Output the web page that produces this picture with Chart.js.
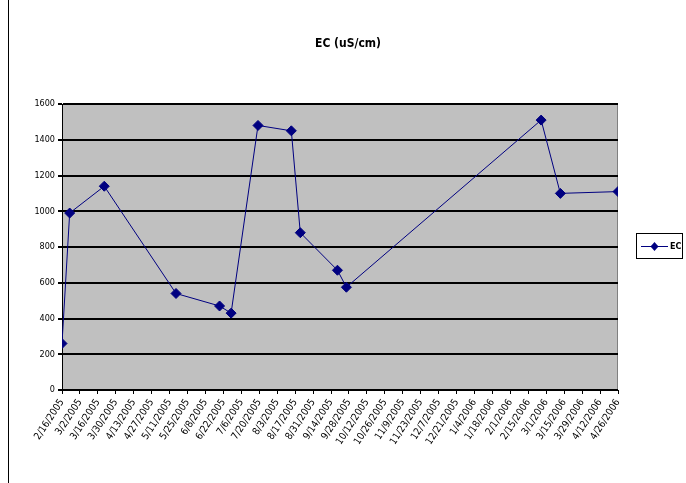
<!DOCTYPE html>
<html>
<head>
<meta charset="utf-8">
<script src="https://cdn.jsdelivr.net/npm/chart.js@4/dist/chart.umd.min.js"></script>
<style>
  html, body { margin: 0; padding: 0; background: #fff; }
  #wrap { width: 686px; height: 483px; position: relative; }
</style>
</head>
<body>
<div id="wrap"><canvas id="ecChart"></canvas></div>
<script>
// sample dates and EC readings
const sampleDates = ['2/16/2005', '2/22/2005', '3/21/2005', '5/16/2005', '6/19/2005', '6/28/2005', '7/19/2005',
  '8/14/2005', '8/21/2005', '9/19/2005', '9/26/2005', '2/25/2006', '3/12/2006', '4/26/2006'];
const ecValues = [260, 990, 1140, 540, 470, 430, 1480, 1450, 880, 670, 575, 1510, 1100, 1110];

// date axis: first/last label and spacing (days)
const axisStart = '2/16/2005';
const axisEnd = '4/26/2006';
const tickStepDays = 14;
const yTicks = [0, 200, 400, 600, 800, 1000, 1200, 1400, 1600];
const titleText = 'EC (uS/cm)';

const DAY = 86400000;
const FONT = "'DejaVu Sans Condensed', 'Liberation Sans Narrow', 'Liberation Sans', sans-serif";

function toDay(s) {
  const [m, d, y] = s.split('/').map(Number);
  return Date.UTC(y, m - 1, d) / DAY;
}
const day0 = toDay(axisStart);
function fmtDay(v) {
  const dt = new Date((day0 + v) * DAY);
  return (dt.getUTCMonth() + 1) + '/' + dt.getUTCDate() + '/' + dt.getUTCFullYear();
}

const points = sampleDates.map((d, i) => ({ x: toDay(d) - day0, y: ecValues[i] }));

const plotBg = {
  id: 'plotBg',
  beforeDraw(chart) {
    const { ctx, chartArea: a } = chart;
    ctx.save();
    ctx.fillStyle = '#c0c0c0';
    ctx.fillRect(a.left, a.top, a.right - a.left, a.bottom - a.top);
    ctx.strokeStyle = '#808080';
    ctx.lineWidth = 1;
    ctx.strokeRect(a.left + 0.5, a.top + 0.5, a.right - a.left - 1, a.bottom - a.top);
    ctx.restore();
  },
  afterDraw(chart) {
    const ctx = chart.ctx;
    const ds = chart.data.datasets[0];
    ctx.save();
    // title (Excel centres it over the whole chart, not the plot)
    ctx.fillStyle = '#000';
    ctx.font = 'bold 12px ' + FONT;
    ctx.textAlign = 'center';
    ctx.textBaseline = 'middle';
    ctx.fillText(titleText, 348, 44);
    // outer frame edge
    ctx.strokeStyle = '#000';
    ctx.lineWidth = 1;
    ctx.beginPath();
    ctx.moveTo(8.5, 0);
    ctx.lineTo(8.5, 483);
    ctx.stroke();
    // legend box
    ctx.strokeRect(636.5, 233.5, 46, 25);
    ctx.strokeStyle = ds.borderColor;
    ctx.beginPath();
    ctx.moveTo(641, 246.5);
    ctx.lineTo(668, 246.5);
    ctx.stroke();
    ctx.fillStyle = ds.backgroundColor;
    ctx.beginPath();
    ctx.moveTo(654.5, 242);
    ctx.lineTo(658.5, 246.5);
    ctx.lineTo(654.5, 251);
    ctx.lineTo(650.5, 246.5);
    ctx.closePath();
    ctx.fill();
    ctx.fillStyle = '#000';
    ctx.font = 'bold 9px ' + FONT;
    ctx.textAlign = 'left';
    ctx.fillText(ds.label, 670, 247);
    ctx.restore();
  }
};

new Chart(document.getElementById('ecChart'), {
  type: 'line',
  data: {
    datasets: [{
      label: 'EC',
      data: points,
      borderColor: '#000080',
      backgroundColor: '#000080',
      borderWidth: 1,
      pointStyle: 'rectRot',
      pointRadius: 5,
      pointHoverRadius: 5,
      tension: 0
    }]
  },
  options: {
    responsive: true,
    maintainAspectRatio: false,
    animation: false,
    layout: { padding: { left: 0, right: 68, top: 104, bottom: 0 } },
    plugins: {
      legend: { display: false },
      tooltip: { enabled: false },
      title: { display: false }
    },
    scales: {
      x: {
        type: 'linear',
        min: 0,
        max: toDay(axisEnd) - day0,
        afterFit(s) { s.height = 93; },
        afterBuildTicks(s) {
          const t = [];
          for (let v = 0; v <= toDay(axisEnd) - day0; v += tickStepDays) t.push({ value: v });
          s.ticks = t;
        },
        border: { display: true, color: '#000', width: 1 },
        grid: { drawOnChartArea: false, color: '#000', tickLength: 4 },
        ticks: {
          autoSkip: false,
          maxRotation: 57,
          minRotation: 57,
          padding: 3,
          color: '#000',
          font: { family: FONT, size: 10 },
          callback: v => fmtDay(v)
        }
      },
      y: {
        min: 0,
        max: 1600,
        afterFit(s) { s.width = 62; },
        afterBuildTicks(s) { s.ticks = yTicks.map(v => ({ value: v })); },
        border: { display: true, color: '#000', width: 1 },
        grid: { color: '#000', lineWidth: 2, tickLength: 4, drawTicks: true },
        ticks: {
          padding: 3,
          color: '#000',
          font: { family: FONT, size: 9 },
          callback: v => String(v)
        }
      }
    }
  },
  plugins: [plotBg]
});
</script>
</body>
</html>
